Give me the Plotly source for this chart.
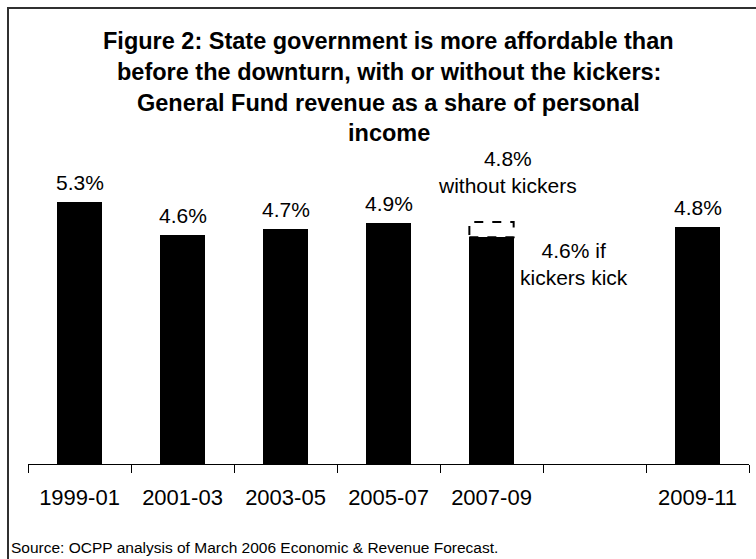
import plotly.graph_objects as go

# ---- data ----
categories = ["1999-01", "2001-03", "2003-05", "2005-07", "2007-09", " ", "2009-11"]
values = [5.29, 4.62, 4.74, 4.86, 4.58, None, 4.79]
value_labels = ["5.3%", "4.6%", "4.7%", "4.9%", None, None, "4.8%"]
without_kickers = 4.89   # 2007-09 without kickers (dashed box top)
kicker_category = "2007-09"
note_without = "4.8%<br>without kickers"
note_with = "4.6% if<br>kickers kick"
title_lines = [
    "Figure 2: State government is more affordable than",
    "before the downturn, with or without the kickers:",
    "General Fund revenue as a share of personal",
    "income",
]
source_text = "Source: OCPP analysis of March 2006 Economic & Revenue Forecast."

W, H = 756, 559
ML, MR, MT, MB = 28, 7, 167, 95
PW, PH = W - ML - MR, H - MT - MB
YMAX = 6.0
BAR_W = 0.43
FONT = "Liberation Sans, Arial, sans-serif"


def px_to_paper_y(py):
    return (H - MB - py) / PH


def px_to_paper_x(px):
    return (px - ML) / PW


fig = go.Figure()
fig.add_trace(go.Bar(
    x=categories, y=values, width=BAR_W,
    marker=dict(color="black", line=dict(width=0)),
    hoverinfo="skip", showlegend=False,
))

annotations = []
for c, v, t in zip(categories, values, value_labels):
    if v is not None and t:
        annotations.append(dict(
            x=c, y=v, xref="x", yref="y", text=t, showarrow=False,
            yanchor="bottom", yshift=6, font=dict(size=21, color="black", family=FONT),
        ))

ki = categories.index(kicker_category)
kv = values[ki]
fig.add_shape(
    type="rect", xref="x", yref="y",
    x0=ki - BAR_W / 2, x1=ki + BAR_W / 2, y0=kv, y1=without_kickers,
    line=dict(color="black", width=2, dash="dash"), fillcolor="rgba(0,0,0,0)",
)

annotations.append(dict(
    x=px_to_paper_x(507), y=px_to_paper_y(172), xref="paper", yref="paper",
    text=note_without, showarrow=False, xanchor="center", yanchor="middle",
    font=dict(size=21, color="black", family=FONT),
))
annotations.append(dict(
    x=px_to_paper_x(574), y=px_to_paper_y(264), xref="paper", yref="paper",
    text=note_with, showarrow=False, xanchor="center", yanchor="middle",
    font=dict(size=21, color="black", family=FONT),
))

title_mid_px = [41, 72, 103, 133]
for line, py in zip(title_lines, title_mid_px):
    annotations.append(dict(
        x=0.5, y=px_to_paper_y(py), xref="paper", yref="paper",
        text="<b>" + line + "</b>", showarrow=False, xanchor="center", yanchor="middle",
        font=dict(size=23.5, color="black", family=FONT),
    ))

annotations.append(dict(
    x=px_to_paper_x(9), y=px_to_paper_y(547), xref="paper", yref="paper",
    text=source_text, showarrow=False, xanchor="left", yanchor="middle",
    font=dict(size=15.5, color="black", family=FONT),
))

# chart border (left and top visible, right/bottom run off the image)
fig.add_shape(
    type="rect", xref="paper", yref="paper",
    x0=px_to_paper_x(8), x1=px_to_paper_x(W + 20),
    y0=px_to_paper_y(H + 20), y1=px_to_paper_y(8),
    line=dict(color="#303030", width=2), fillcolor="rgba(0,0,0,0)", layer="above",
)

fig.update_layout(
    width=W, height=H,
    margin=dict(l=ML, r=MR, t=MT, b=MB, pad=0),
    paper_bgcolor="white", plot_bgcolor="white",
    annotations=annotations,
    font=dict(family=FONT, color="black"),
    xaxis=dict(
        type="category", categoryorder="array", categoryarray=categories,
        range=[-0.5, len(categories) - 0.5],
        tickson="boundaries", ticks="outside", ticklen=8, tickwidth=1, tickcolor="black",
        showline=True, linecolor="black", linewidth=1, showgrid=False,
        tickfont=dict(size=22, color="black", family=FONT),
        ticklabelstandoff=14,
        fixedrange=True,
    ),
    yaxis=dict(
        range=[0, YMAX], visible=False, showgrid=False, zeroline=False, fixedrange=True,
    ),
    bargap=0,
)

fig.write_html("out.html")
